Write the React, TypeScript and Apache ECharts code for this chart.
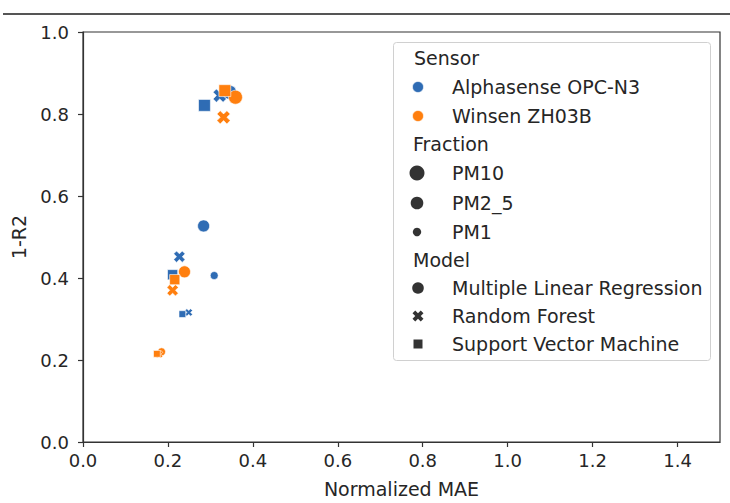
import React, { useEffect, useRef } from "react";
import * as echarts from "echarts";

// ---- data ----
const sensors = ["Alphasense OPC-N3", "Winsen ZH03B"];
const fractions = ["PM10", "PM2_5", "PM1"];
const models = ["Multiple Linear Regression", "Random Forest", "Support Vector Machine"];

// per point: sensor, fraction, model
const pointSensor = [
  "Alphasense OPC-N3", "Alphasense OPC-N3", "Alphasense OPC-N3",
  "Alphasense OPC-N3", "Alphasense OPC-N3", "Alphasense OPC-N3",
  "Alphasense OPC-N3", "Alphasense OPC-N3", "Alphasense OPC-N3",
  "Winsen ZH03B", "Winsen ZH03B", "Winsen ZH03B",
  "Winsen ZH03B", "Winsen ZH03B", "Winsen ZH03B",
  "Winsen ZH03B", "Winsen ZH03B", "Winsen ZH03B",
];
const pointFraction = [
  "PM10", "PM10", "PM10",
  "PM2_5", "PM2_5", "PM2_5",
  "PM1", "PM1", "PM1",
  "PM10", "PM10", "PM10",
  "PM2_5", "PM2_5", "PM2_5",
  "PM1", "PM1", "PM1",
];
const pointModel = [
  "Multiple Linear Regression", "Random Forest", "Support Vector Machine",
  "Multiple Linear Regression", "Random Forest", "Support Vector Machine",
  "Multiple Linear Regression", "Random Forest", "Support Vector Machine",
  "Multiple Linear Regression", "Random Forest", "Support Vector Machine",
  "Multiple Linear Regression", "Random Forest", "Support Vector Machine",
  "Multiple Linear Regression", "Random Forest", "Support Vector Machine",
];
const normalizedMAE = [
  0.345, 0.322, 0.286,
  0.284, 0.227, 0.211,
  0.309, 0.249, 0.234,
  0.359, 0.331, 0.334,
  0.239, 0.211, 0.216,
  0.185, 0.179, 0.174,
];
const oneMinusR2 = [
  0.853, 0.845, 0.821,
  0.527, 0.452, 0.408,
  0.406, 0.316, 0.312,
  0.841, 0.792, 0.857,
  0.415, 0.370, 0.396,
  0.220, 0.214, 0.215,
];

const xTicks = [0, 0.2, 0.4, 0.6, 0.8, 1.0, 1.2, 1.4];
const yTicks = [0, 0.2, 0.4, 0.6, 0.8, 1.0];

// ---- styles ----
const sensorColors: Record<string, string> = {
  "Alphasense OPC-N3": "#2f6cb4",
  "Winsen ZH03B": "#ff7f0e",
};
const fractionSize: Record<string, number> = { PM10: 14, PM2_5: 12, PM1: 8 };
const X_PATH =
  "path://M7.5,0 L10,2.5 L7.5,5 L10,7.5 L7.5,10 L5,7.5 L2.5,10 L0,7.5 L2.5,5 L0,2.5 L2.5,0 L5,2.5 Z";
const X_PTS = [
  [7.5, 0], [10, 2.5], [7.5, 5], [10, 7.5], [7.5, 10], [5, 7.5],
  [2.5, 10], [0, 7.5], [2.5, 5], [0, 2.5], [2.5, 0], [5, 2.5],
];
const modelSymbol: Record<string, string> = {
  "Multiple Linear Regression": "circle",
  "Random Forest": X_PATH,
  "Support Vector Machine": "rect",
};
const modelScale: Record<string, number> = {
  "Multiple Linear Regression": 1,
  "Random Forest": 0.95,
  "Support Vector Machine": 0.85,
};

const FONT = "DejaVu Sans";
const TXT = "#262626";

function xPolygon(cx: number, cy: number, s: number) {
  return X_PTS.map(([a, b]) => [cx + ((a - 5) / 10) * s, cy + ((b - 5) / 10) * s]);
}

export default function App() {
  const ref = useRef<HTMLDivElement>(null);
  useEffect(() => {
    if (!ref.current) return;
    const chart = echarts.init(ref.current, null, { renderer: "svg" });

    const series: any[] = [];
    sensors.forEach((s) => {
      models.forEach((m) => {
        const data: any[] = [];
        pointSensor.forEach((ps, i) => {
          if (ps === s && pointModel[i] === m) {
            data.push({
              value: [normalizedMAE[i], oneMinusR2[i]],
              symbolSize: fractionSize[pointFraction[i]] * modelScale[m],
            });
          }
        });
        series.push({
          type: "scatter",
          name: s + " / " + m,
          symbol: modelSymbol[m],
          data,
          itemStyle: {
            color: sensorColors[s],
            borderColor: "#ffffff",
            borderWidth: 0.6,
            opacity: 1,
          },
          emphasis: { disabled: true },
        });
      });
    });

    // legend via graphic
    const lx = 418;
    const tx = 452;
    const rowY = [58, 87, 116, 144, 173, 203, 232, 260, 288, 316, 344];
    const g: any[] = [];
    g.push({
      type: "line",
      shape: { x1: 3, y1: 14, x2: 730, y2: 14 },
      style: { stroke: "#555", lineWidth: 2 },
    });
    g.push({
      type: "rect",
      shape: { x: 393.5, y: 42.5, width: 317, height: 318, r: 3 },
      style: { fill: "rgba(255,255,255,0.8)", stroke: "#d0d0d0", lineWidth: 1 },
    });
    const text = (t: string, x: number, y: number) => ({
      type: "text",
      x,
      y,
      style: {
        text: t,
        fill: TXT,
        font: `19px "${FONT}"`,
        verticalAlign: "middle",
      },
    });
    const legendMarker = "#333333";
    g.push(text("Sensor", 414, rowY[0]));
    sensors.forEach((s, i) => {
      g.push({
        type: "circle",
        shape: { cx: lx, cy: rowY[1 + i], r: 5.5 },
        style: { fill: sensorColors[s], stroke: "#fff", lineWidth: 0.6 },
      });
      g.push(text(s, tx, rowY[1 + i]));
    });
    g.push(text("Fraction", 413, rowY[3]));
    fractions.forEach((f, i) => {
      g.push({
        type: "circle",
        shape: { cx: lx - 1, cy: rowY[4 + i], r: [7.5, 6.3, 4.2][i] },
        style: { fill: legendMarker },
      });
      g.push(text(f, tx, rowY[4 + i]));
    });
    g.push(text("Model", 413, rowY[7]));
    models.forEach((m, i) => {
      const cy = rowY[8 + i];
      if (i === 0) {
        g.push({ type: "circle", shape: { cx: lx, cy, r: 5.8 }, style: { fill: legendMarker } });
      } else if (i === 1) {
        g.push({ type: "polygon", shape: { points: xPolygon(lx, cy, 11) }, style: { fill: legendMarker } });
      } else {
        g.push({ type: "rect", shape: { x: lx - 4.5, y: cy - 4.5, width: 9, height: 9 }, style: { fill: legendMarker } });
      }
      g.push(text(m, tx, cy));
    });

    chart.setOption({
      animation: false,
      backgroundColor: "#ffffff",
      textStyle: { fontFamily: FONT },
      grid: {
        left: 83,
        right: 10,
        top: 32,
        bottom: 57,
        show: true,
        borderColor: "#333",
        borderWidth: 1.2,
        containLabel: false,
      },
      xAxis: {
        type: "value",
        min: 0,
        max: 1.5,
        interval: 0.2,
        name: "Normalized MAE",
        nameLocation: "middle",
        nameGap: 37,
        nameTextStyle: { color: TXT, fontSize: 19, fontFamily: FONT },
        splitLine: { show: false },
        axisLine: { show: true, lineStyle: { color: "#333", width: 1.2 } },
        axisTick: { show: true, length: 5, lineStyle: { color: "#333", width: 1.2 }, customValues: xTicks },
        axisLabel: {
          color: TXT,
          fontSize: 18,
          fontFamily: FONT,
          margin: 9,
          customValues: xTicks,
          formatter: (v: number) => v.toFixed(1),
        },
      },
      yAxis: {
        type: "value",
        min: 0,
        max: 1,
        interval: 0.2,
        name: "1-R2",
        nameLocation: "middle",
        nameGap: 55,
        nameRotate: 90,
        nameTextStyle: { color: TXT, fontSize: 19, fontFamily: FONT },
        splitLine: { show: false },
        axisLine: { show: true, lineStyle: { color: "#333", width: 1.2 } },
        axisTick: { show: true, length: 5, lineStyle: { color: "#333", width: 1.2 }, customValues: yTicks },
        axisLabel: {
          color: TXT,
          fontSize: 18,
          fontFamily: FONT,
          margin: 14,
          customValues: yTicks,
          formatter: (v: number) => v.toFixed(1),
        },
      },
      series,
      graphic: g,
    });
    return () => chart.dispose();
  }, []);
  return (
    <div
      ref={ref}
      style={{ position: "absolute", left: 0, top: 0, width: 730, height: 503 }}
    />
  );
}
